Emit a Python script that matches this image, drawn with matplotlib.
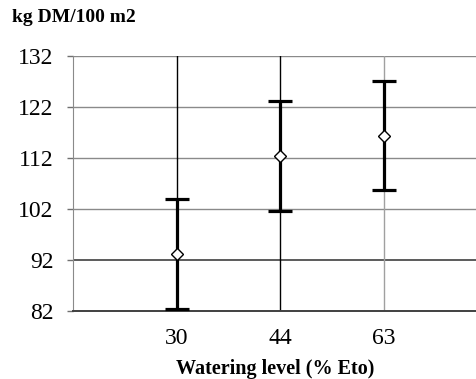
import numpy as np
import matplotlib.pyplot as plt

plt.rcParams['font.family'] = ['Liberation Serif', 'DejaVu Serif']

levels = ['30', '44', '63']
means = [93.2, 112.4, 116.4]
errs = [10.7, 10.7, 10.7]
yticks = [82, 92, 102, 112, 122, 132]

fig = plt.figure(figsize=(4.77, 3.79), dpi=100)
ax = fig.add_axes([0.153, 0.179, 0.847, 0.673])
x = np.arange(1, len(levels) + 1)

# grid lines, drawn by hand to copy the odd shading of the original
for y in yticks[1:]:
    c = '#404040' if y == 92 else '#8a8a8a'
    ax.axhline(y, color=c, lw=1.2 if y == 92 else 1.0, zorder=1)
vcolors = ['black', 'black', '#a0a0a0']
for xi, c in zip(x, vcolors):
    ax.axvline(xi, color=c, lw=1.0, zorder=1)

ax.errorbar(x, means, yerr=errs, fmt='none', ecolor='black', elinewidth=2.3,
            capsize=8.5, capthick=2.3, zorder=3, clip_on=False)
ax.plot(x, means, linestyle='none', marker='D', markersize=6.5,
        markerfacecolor='white', markeredgecolor='black', markeredgewidth=1.0,
        zorder=4, clip_on=False)

ax.set_xlim(0, 3.9)
ax.set_ylim(82, 132)
ax.set_yticks(yticks)
ax.set_xticks(x)
ax.set_xticklabels(levels)
ax.tick_params(axis='both', labelsize=17, length=4, color='#707070', width=1)
ax.tick_params(axis='y', pad=10)
ax.tick_params(axis='x', length=0, pad=12)
for s in ['top', 'right']:
    ax.spines[s].set_visible(False)
ax.spines['left'].set_color('#8a8a8a')
ax.spines['bottom'].set_color('#404040')
ax.spines['bottom'].set_linewidth(1.4)

fig.text(0.025, 0.975, 'kg DM/100 m2', fontsize=14, fontweight='bold', va='top')
ax.set_xlabel('Watering level (% Eto)', fontsize=14.5, fontweight='bold', labelpad=7)

fig.savefig('out.png', dpi=100)
